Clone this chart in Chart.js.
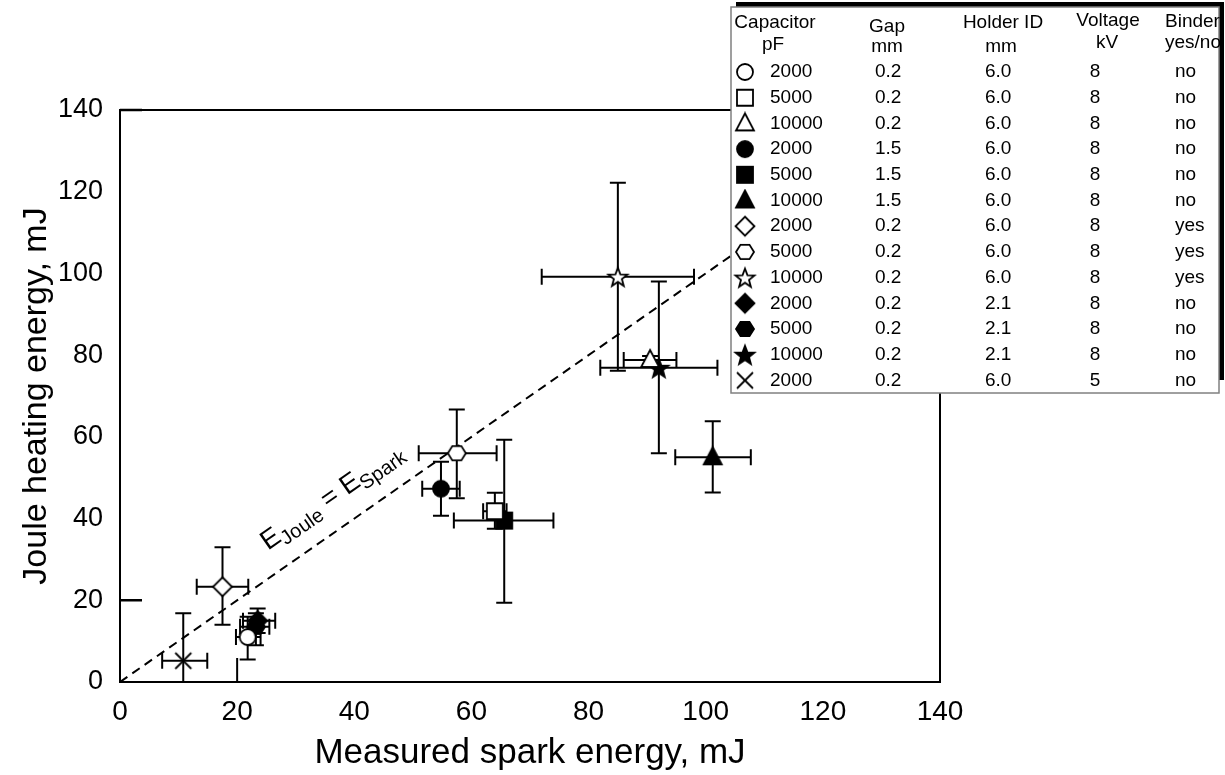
<!DOCTYPE html>
<html>
<head>
<meta charset="utf-8">
<script src="https://cdn.jsdelivr.net/npm/chart.js@4.4.0/dist/chart.umd.min.js"></script>
<style>
  html, body { margin: 0; padding: 0; background: #fff; }
</style>
</head>
<body>
<canvas id="grafico" width="1225" height="775"></canvas>
<script>
// Datos (mJ)
const capacitor = ['2000', '5000', '10000', '2000', '5000', '10000', '2000', '5000', '10000', '2000', '5000', '10000', '2000'];
const gap       = ['0.2', '0.2', '0.2', '1.5', '1.5', '1.5', '0.2', '0.2', '0.2', '0.2', '0.2', '0.2', '0.2'];
const holder    = ['6.0', '6.0', '6.0', '6.0', '6.0', '6.0', '6.0', '6.0', '6.0', '2.1', '2.1', '2.1', '6.0'];
const voltaje   = ['8', '8', '8', '8', '8', '8', '8', '8', '8', '8', '8', '8', '5'];
const binder    = ['no', 'no', 'no', 'no', 'no', 'no', 'yes', 'yes', 'yes', 'no', 'no', 'no', 'no'];

const chispa    = [21.8, 64.0, 90.5, 54.8, 65.6, 101.2, 17.5, 57.5, 85.0, 23.5, 23.2, 92.0, 10.8];
const joule     = [11.0, 41.8, 78.8, 47.3, 39.5, 55.0, 23.3, 56.0, 99.2, 15.0, 13.5, 76.9, 5.2];
const chispaMin = [19.8, 62.0, 86.0, 51.6, 57.0, 94.8, 13.1, 51.0, 72.0, 21.0, 20.5, 82.0, 7.2];
const chispaMax = [24.0, 66.0, 95.0, 58.0, 74.0, 107.7, 21.9, 64.3, 98.0, 26.5, 25.5, 102.0, 14.9];
const jouleMin  = [5.5, 37.5, 77.8, 40.7, 19.4, 46.4, 14.0, 45.0, 76.2, 12.0, 9.0, 56.0, 0.0];
const jouleMax  = [16.0, 46.3, 79.8, 53.9, 59.3, 63.8, 33.0, 66.7, 122.2, 18.0, 16.8, 98.0, 16.8];

// recta E_Joule = E_Spark
const rectaX = [0, 140];
const rectaY = [0, 140];

// marcas cortas que se ven en los ejes
const marcasEjeX = [20];
const marcasEjeY = [20, 140];

// estilos de los símbolos
const formas   = ['circle', 'square', 'triangle', 'circle', 'square', 'triangle', 'diamond', 'hexagon', 'star', 'diamond', 'hexagon', 'star', 'x'];
const rellenos = [false, false, false, true, true, true, false, false, false, true, true, true, false];

const FUENTE = '"Liberation Sans", Arial, sans-serif';

function crearMarca(tipo, relleno) {
  const c = document.createElement('canvas');
  c.width = 24; c.height = 24;
  const ctx = c.getContext('2d');
  const m = 12;
  ctx.lineWidth = 1.8;
  ctx.strokeStyle = '#000';
  ctx.fillStyle = relleno ? '#000' : '#fff';
  ctx.beginPath();
  if (tipo === 'circle') {
    ctx.arc(m, m, 8, 0, Math.PI * 2);
  } else if (tipo === 'square') {
    ctx.rect(m - 8, m - 8, 16, 16);
  } else if (tipo === 'triangle') {
    ctx.moveTo(m, m - 10);
    ctx.lineTo(m + 9, m + 7);
    ctx.lineTo(m - 9, m + 7);
    ctx.closePath();
  } else if (tipo === 'diamond') {
    ctx.moveTo(m, m - 9.5);
    ctx.lineTo(m + 9.5, m);
    ctx.lineTo(m, m + 9.5);
    ctx.lineTo(m - 9.5, m);
    ctx.closePath();
  } else if (tipo === 'hexagon') {
    for (let i = 0; i < 6; i++) {
      const a = i * Math.PI / 3;
      const px = m + 9 * Math.cos(a), py = m + 8.3 * Math.sin(a);
      if (i === 0) ctx.moveTo(px, py); else ctx.lineTo(px, py);
    }
    ctx.closePath();
  } else if (tipo === 'star') {
    for (let i = 0; i < 10; i++) {
      const r = i % 2 === 0 ? 10 : 4.2;
      const a = -Math.PI / 2 + i * Math.PI / 5;
      const px = m + r * Math.cos(a), py = m + 1 + r * Math.sin(a);
      if (i === 0) ctx.moveTo(px, py); else ctx.lineTo(px, py);
    }
    ctx.closePath();
  } else if (tipo === 'x') {
    ctx.moveTo(m - 8, m - 8); ctx.lineTo(m + 8, m + 8);
    ctx.moveTo(m + 8, m - 8); ctx.lineTo(m - 8, m + 8);
    ctx.stroke();
    return c;
  }
  ctx.fill();
  ctx.stroke();
  return c;
}

const marcas = formas.map((f, i) => crearMarca(f, rellenos[i]));

// barras de error
const barrasError = {
  id: 'barrasError',
  beforeDatasetsDraw(chart) {
    const { ctx, scales: { x, y } } = chart;
    const cap = 8;
    ctx.save();
    ctx.strokeStyle = '#000';
    ctx.lineWidth = 2;
    chispa.forEach((v, i) => {
      const px = x.getPixelForValue(v), py = y.getPixelForValue(joule[i]);
      const x1 = x.getPixelForValue(chispaMin[i]), x2 = x.getPixelForValue(chispaMax[i]);
      const y1 = y.getPixelForValue(jouleMin[i]), y2 = y.getPixelForValue(jouleMax[i]);
      ctx.beginPath();
      ctx.moveTo(x1, py); ctx.lineTo(x2, py);
      ctx.moveTo(x1, py - cap); ctx.lineTo(x1, py + cap);
      ctx.moveTo(x2, py - cap); ctx.lineTo(x2, py + cap);
      ctx.moveTo(px, y1); ctx.lineTo(px, y2);
      ctx.moveTo(px - cap, y1); ctx.lineTo(px + cap, y1);
      ctx.moveTo(px - cap, y2); ctx.lineTo(px + cap, y2);
      ctx.stroke();
    });
    ctx.restore();
  }
};

// marco, marcas de eje y etiqueta de la recta
const marco = {
  id: 'marco',
  beforeDatasetsDraw(chart) {
    const { ctx, chartArea: a, scales: { x, y } } = chart;
    ctx.save();
    ctx.strokeStyle = '#000';
    ctx.lineWidth = 2;
    ctx.strokeRect(a.left, a.top, a.right - a.left, a.bottom - a.top);
    ctx.beginPath();
    marcasEjeX.forEach(v => {
      const px = x.getPixelForValue(v);
      ctx.moveTo(px, a.bottom); ctx.lineTo(px, a.bottom - 24);
    });
    ctx.stroke();
    ctx.lineWidth = 2.5;
    ctx.beginPath();
    marcasEjeY.forEach(v => {
      const py = y.getPixelForValue(v);
      ctx.moveTo(a.left, py); ctx.lineTo(a.left + 22, py);
    });
    ctx.stroke();

    // etiqueta E_Joule = E_Spark
    const x0 = x.getPixelForValue(0), y0 = y.getPixelForValue(0);
    const x1 = x.getPixelForValue(100), y1 = y.getPixelForValue(100);
    const ang = Math.atan2(y1 - y0, x1 - x0);
    ctx.translate(x.getPixelForValue(27.5), y.getPixelForValue(27.5));
    ctx.rotate(ang);
    ctx.fillStyle = '#000';
    ctx.textBaseline = 'alphabetic';
    let cx = 0;
    const partes = [['E', 27, 0], ['Joule', 20, 6], [' = ', 27, 0], ['E', 27, 0], ['Spark', 20, 6]];
    partes.forEach(([t, s, dy]) => {
      ctx.font = s + 'px ' + FUENTE;
      ctx.fillText(t, cx, -23 + dy);
      cx += ctx.measureText(t).width;
    });
    ctx.restore();
  }
};

// leyenda en forma de tabla
const tabla = {
  id: 'tabla',
  afterDraw(chart) {
    const ctx = chart.ctx;
    const L = 731, T = 7, W = 488, H = 386;
    ctx.save();
    ctx.fillStyle = '#000';
    ctx.fillRect(L + 5, T - 5, W, H - 8);
    ctx.fillStyle = '#fff';
    ctx.fillRect(L, T, W, H);
    ctx.strokeStyle = '#808080';
    ctx.lineWidth = 1.5;
    ctx.strokeRect(L, T, W, H);

    ctx.fillStyle = '#000';
    ctx.font = '19px ' + FUENTE;
    ctx.textBaseline = 'middle';
    ctx.textAlign = 'center';
    ctx.fillText('Capacitor', 775, 23); ctx.fillText('pF', 773, 45);
    ctx.fillText('Gap', 887, 27); ctx.fillText('mm', 887, 47);
    ctx.fillText('Holder ID', 1003, 23); ctx.fillText('mm', 1001, 47);
    ctx.fillText('Voltage', 1108, 21); ctx.fillText('kV', 1107, 43);
    ctx.textAlign = 'left';
    ctx.fillText('Binder', 1165, 22); ctx.fillText('yes/no', 1165, 43);

    capacitor.forEach((c, i) => {
      const yy = 72 + i * 25.7;
      ctx.drawImage(marcas[i], 745 - 12, yy - 12);
      ctx.textAlign = 'left';
      ctx.fillText(c, 770, yy);
      ctx.fillText(gap[i], 875, yy);
      ctx.fillText(holder[i], 985, yy);
      ctx.textAlign = 'center';
      ctx.fillText(voltaje[i], 1095, yy);
      ctx.textAlign = 'left';
      ctx.fillText(binder[i], 1175, yy);
    });
    ctx.restore();
  }
};

const datasets = chispa.map((v, i) => ({
  type: 'scatter',
  label: capacitor[i],
  data: [{ x: v, y: joule[i] }],
  pointStyle: marcas[i],
  pointRadius: 9,
  showLine: false
}));

datasets.push({
  type: 'line',
  label: 'E_Joule = E_Spark',
  data: rectaX.map((v, i) => ({ x: v, y: rectaY[i] })),
  borderColor: '#000',
  borderWidth: 2,
  borderDash: [9, 6],
  pointRadius: 0,
  fill: false
});

const ctx = document.getElementById('grafico').getContext('2d');
const grafico = new Chart(ctx, {
  data: { datasets },
  plugins: [marco, barrasError, tabla],
  options: {
    responsive: false,
    animation: false,
    events: [],
    layout: { padding: { left: 0, right: 285, top: 110, bottom: 0 } },
    plugins: {
      legend: { display: false },
      tooltip: { enabled: false }
    },
    scales: {
      x: {
        type: 'linear',
        min: 0,
        max: 140,
        afterFit(s) { s.height = 93; s.paddingLeft = 0; s.paddingRight = 0; },
        grid: { display: false, drawTicks: false },
        border: { display: false },
        ticks: { stepSize: 20, color: '#000', font: { family: FUENTE, size: 28 }, padding: 13, maxRotation: 0 },
        title: { display: true, text: 'Measured spark energy, mJ', color: '#000', font: { family: FUENTE, size: 35 }, padding: { top: 0, bottom: 1 } }
      },
      y: {
        type: 'linear',
        min: 0,
        max: 140,
        afterFit(s) { s.width = 120; s.paddingTop = 0; s.paddingBottom = 0; },
        grid: { display: false, drawTicks: false },
        border: { display: false },
        ticks: { stepSize: 20, color: '#000', font: { family: FUENTE, size: 27 }, padding: 17 },
        title: { display: true, text: 'Joule heating energy, mJ', color: '#000', font: { family: FUENTE, size: 34 }, padding: { top: 16, bottom: 0 } }
      }
    }
  }
});
</script>
</body>
</html>
